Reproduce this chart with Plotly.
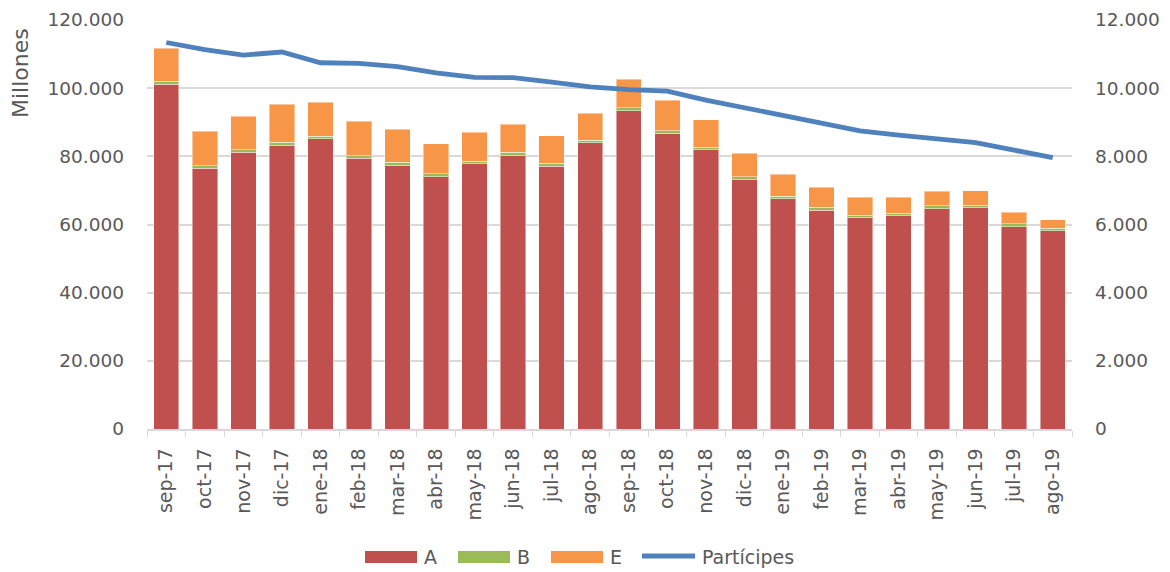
import plotly.graph_objects as go

meses = ["sep-17", "oct-17", "nov-17", "dic-17", "ene-18", "feb-18", "mar-18", "abr-18",
         "may-18", "jun-18", "jul-18", "ago-18", "sep-18", "oct-18", "nov-18", "dic-18",
         "ene-19", "feb-19", "mar-19", "abr-19", "may-19", "jun-19", "jul-19", "ago-19"]

# millones
serie_a = [101100, 76500, 81150, 83200, 85150, 79400, 77400, 74000,
           77800, 80350, 77150, 84000, 93350, 86800, 81900, 73200,
           67550, 64150, 62000, 62550, 64600, 64900, 59350, 58150]
serie_b = [900, 800, 850, 900, 750, 800, 900, 900,
           800, 800, 750, 750, 900, 700, 700, 800,
           800, 850, 750, 700, 900, 700, 850, 700]
serie_e = [9750, 10100, 9800, 11200, 10000, 10100, 9700, 8800,
           8500, 8300, 8200, 7850, 8400, 8900, 8200, 6950,
           6450, 5900, 5300, 4700, 4300, 4300, 3350, 2550]

participes = [11340, 11130, 10970, 11060, 10745, 10725, 10630, 10450,
              10315, 10310, 10180, 10040, 9960, 9915, 9650, 9425,
              9210, 9000, 8750, 8620, 8525, 8400, 8180, 7960]

FONT = "DejaVu Sans"
GRIS = "#595959"
C_A, C_B, C_E, C_P = "#C0504D", "#9BBB59", "#F79646", "#4F81BD"
EDGE = dict(color="rgba(255,255,255,0.45)", width=1)

# the page body has an 8px margin, so the figure is offset by that much
OFF = 8
W, H = 1170 - OFF, 572 - OFF
# plot area in page pixels: x 147..1072, y 20..429
L, R, T, B = 147, 1072, 20, 429


def px(x):
    return (x - L) / (R - L)


def py(y):
    return (B - y) / (B - T)


fig = go.Figure()
fig.add_trace(go.Bar(x=meses, y=serie_a, name="A", marker=dict(color=C_A, line=EDGE),
                     showlegend=False))
fig.add_trace(go.Bar(x=meses, y=serie_b, name="B", marker=dict(color=C_B, line=EDGE),
                     showlegend=False))
fig.add_trace(go.Bar(x=meses, y=serie_e, name="E", marker=dict(color=C_E, line=EDGE),
                     showlegend=False))
fig.add_trace(go.Scatter(x=meses, y=participes, name="Partícipes", yaxis="y2",
                         mode="lines", line=dict(color=C_P, width=4.8), showlegend=False))

# legend drawn by hand (Excel style wide swatches)
shapes = []
annotations = []
for x0, color, label in [(365, C_A, "A"), (458, C_B, "B"), (551, C_E, "E")]:
    shapes.append(dict(type="rect", xref="paper", yref="paper",
                       x0=px(x0), x1=px(x0 + 52), y0=py(563), y1=py(551),
                       fillcolor=color, line=dict(width=0)))
    annotations.append(dict(text=label, xref="paper", yref="paper",
                            x=px(x0 + 57), y=py(557), xanchor="left", yanchor="middle",
                            showarrow=False, font=dict(size=19, color=GRIS)))
shapes.append(dict(type="line", xref="paper", yref="paper",
                   x0=px(642), x1=px(695), y0=py(556), y1=py(556),
                   line=dict(color=C_P, width=5)))
annotations.append(dict(text="Partícipes", xref="paper", yref="paper",
                        x=px(700), y=py(557), xanchor="left", yanchor="middle",
                        showarrow=False, font=dict(size=19, color=GRIS)))
annotations.append(dict(text="Millones", xref="paper", yref="paper",
                        x=px(20), y=py(73), xanchor="center", yanchor="middle",
                        textangle=-90, showarrow=False, font=dict(size=22, color=GRIS)))

fig.update_layout(
    width=W,
    height=H,
    barmode="stack",
    bargap=0.34,
    separators=",.",
    plot_bgcolor="white",
    paper_bgcolor="white",
    margin=dict(l=L - OFF, r=1170 - R, t=T - OFF, b=572 - B),
    font=dict(family=FONT, size=18.5, color=GRIS),
    showlegend=False,
    xaxis=dict(
        tickangle=-90, automargin=False,
        showline=True, linecolor="#D9D9D9", linewidth=1.5,
        ticks="outside", tickcolor="#D9D9D9", ticklen=6,
        tickson="boundaries", ticklabelstandoff=10,
        tickfont=dict(size=19),
        showgrid=False,
    ),
    yaxis=dict(
        range=[0, 120000], dtick=20000, tickformat=",.0f", automargin=False,
        showgrid=True, gridcolor="#D9D9D9", gridwidth=1.5,
        zeroline=False, ticks="", ticklabelstandoff=22,
    ),
    yaxis2=dict(
        range=[0, 12000], dtick=2000, tickformat=",.0f", automargin=False,
        overlaying="y", side="right", showgrid=False, zeroline=False,
        ticks="", ticklabelstandoff=22,
    ),
    shapes=shapes,
    annotations=annotations,
)

fig.write_html("out.html")
